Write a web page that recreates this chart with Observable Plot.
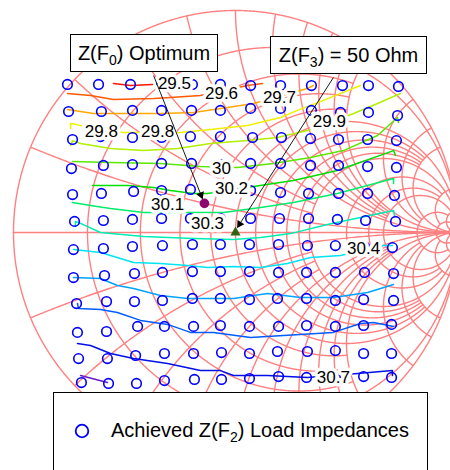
<!DOCTYPE html>
<html><head><meta charset="utf-8">
<script src="https://cdn.jsdelivr.net/npm/d3@7"></script>
<script src="https://cdn.jsdelivr.net/npm/@observablehq/plot@0.6"></script>
<style>
body{margin:0;background:#fff;font-family:"Liberation Sans",Arial,sans-serif;}
#wrap{position:relative;width:450px;height:470px;overflow:hidden;background:#fff;}
#wrap svg.plot{position:absolute;left:0;top:0;}
.box{position:absolute;border:1.5px solid #000;background:#fff;font-size:20px;box-sizing:border-box;display:flex;align-items:center;justify-content:center;white-space:nowrap;color:#000;}
.box sub, #legend sub{font-size:14px;vertical-align:-5px;line-height:0;}
#legend{position:absolute;left:53px;top:392px;width:375px;height:200px;border:1.5px solid #000;background:#fff;box-sizing:border-box;}
#legend svg{position:absolute;left:18px;top:28px;}
#legend .lt{position:absolute;left:57px;top:26px;font-size:20px;line-height:22px;white-space:nowrap;color:#000;}
</style></head><body><div id="wrap"></div><script>
// ---- Smith chart grid specification (normalized values, where each line ends) ----
const gridValues = [0.2, 0.4, 0.6, 0.8, 1, 1.2, 1.4, 1.6, 1.8, 2, 3, 4, 5, 10, 20, 50];
const gridEnds   = [Infinity, 2, 2, 2, Infinity, 5, 5, 5, 5, Infinity, 10, 10, Infinity, 20, 50, Infinity];

// ---- Achieved Z(F2) load impedances (reflection coefficient, rows top to bottom) ----
const impRe = [
 [-0.757,-0.617,-0.473,-0.333,-0.194,-0.068,0.068,0.203,0.342,0.482,0.599,0.734],
 [-0.752,-0.604,-0.464,-0.333,-0.198,-0.068,0.068,0.203,0.342,0.473,0.599,0.730],
 [-0.734,-0.608,-0.464,-0.333,-0.203,-0.068,0.077,0.207,0.338,0.464,0.595,0.725],
 [-0.739,-0.595,-0.464,-0.333,-0.198,-0.068,0.068,0.203,0.338,0.464,0.595,0.725],
 [-0.734,-0.604,-0.459,-0.333,-0.203,-0.068,0.068,0.203,0.329,0.464,0.595,0.716],
 [-0.725,-0.595,-0.464,-0.333,-0.203,-0.068,0.068,0.198,0.329,0.459,0.586,0.721],
 [-0.730,-0.595,-0.464,-0.329,-0.194,-0.068,0.063,0.194,0.324,0.450,0.581,0.707],
 [-0.730,-0.590,-0.455,-0.329,-0.194,-0.068,0.063,0.194,0.320,0.450,0.581,0.712],
 [-0.716,-0.581,-0.455,-0.329,-0.194,-0.068,0.063,0.189,0.320,0.450,0.577,0.712],
 [-0.712,-0.581,-0.441,-0.320,-0.189,-0.068,0.063,0.194,0.320,0.450,0.577,0.703],
 [-0.707,-0.577,-0.450,-0.320,-0.189,-0.063,0.063,0.189,0.324,0.450,0.577,0.703],
 [-0.694,-0.572,-0.446,-0.320,-0.185,-0.063,0.063,0.194,0.320,0.450,0.577,0.703]
];
const impIm = [
 [0.667,0.667,0.667,0.667,0.667,0.667,0.662,0.662,0.662,0.662,0.662,0.658],
 [0.545,0.545,0.550,0.550,0.550,0.550,0.559,0.559,0.550,0.541,0.541,0.527],
 [0.419,0.432,0.428,0.428,0.432,0.432,0.428,0.428,0.423,0.419,0.419,0.414],
 [0.288,0.302,0.306,0.311,0.311,0.306,0.311,0.311,0.302,0.302,0.297,0.293],
 [0.171,0.176,0.185,0.189,0.194,0.189,0.189,0.180,0.176,0.176,0.176,0.167],
 [0.050,0.054,0.059,0.063,0.063,0.063,0.063,0.063,0.063,0.059,0.054,0.050],
 [-0.077,-0.072,-0.063,-0.059,-0.054,-0.054,-0.054,-0.054,-0.059,-0.059,-0.063,-0.068],
 [-0.203,-0.194,-0.185,-0.180,-0.176,-0.176,-0.176,-0.180,-0.180,-0.180,-0.180,-0.185],
 [-0.320,-0.311,-0.311,-0.306,-0.297,-0.297,-0.302,-0.297,-0.297,-0.306,-0.302,-0.306],
 [-0.450,-0.446,-0.423,-0.423,-0.423,-0.419,-0.423,-0.423,-0.419,-0.423,-0.419,-0.414],
 [-0.568,-0.568,-0.554,-0.545,-0.545,-0.541,-0.545,-0.536,-0.536,-0.532,-0.545,-0.545],
 [-0.676,-0.680,-0.680,-0.667,-0.662,-0.662,-0.658,-0.649,-0.653,-0.653,-0.649,-0.653]
];

// ---- Output power contours (dBm) ----
const contourLevels = ["29.5","29.6","29.7","29.8","29.9","30","30.2","30.1","30.3","30.4","30.5","30.6","30.7","30.8"];
const contourColors = ["#ff1400","#ff5a00","#ffa800","#eef000","#b0f000","#5ae800","#00e000","#00ee6a","#00eeb4","#00e4f4","#00a4ff","#005cff","#0010e6","#6a18c8"];
const contourRe = [
 [-0.550,-0.473,-0.374],
 [-0.757,-0.653,-0.550,-0.369,-0.293,-0.158,0.054,0.122],
 [-0.757,-0.640,-0.486,-0.338,-0.189,-0.036,0.081,0.324,0.351],
 [-0.743,-0.743,-0.716,-0.608,-0.505,-0.441,-0.351,-0.248,-0.113,0.054,0.203,0.279,0.396,0.563],
 [-0.743,-0.734,-0.698,-0.563,-0.414,-0.261,-0.113,0.054,0.189,0.324,0.532,0.640,0.743],
 [-0.734,-0.563,-0.338,-0.158,0.009,0.171,0.338,0.486,0.640,0.730,0.734],
 [-0.644,-0.486,-0.369,-0.293,-0.189,-0.126,0.081,0.261,0.459,0.712,0.721],
 [-0.734,-0.653,-0.563,-0.414,-0.216,-0.054,0.113,0.261,0.459,0.712,0.712],
 [-0.721,-0.721,-0.698,-0.608,-0.414,-0.189,-0.009,0.113,0.248,0.414,0.712,0.716],
 [-0.730,-0.608,-0.459,-0.338,-0.216,-0.126,-0.009,0.113,0.234,0.338,0.473,0.667,0.707],
 [-0.730,-0.608,-0.532,-0.459,-0.338,-0.216,-0.009,0.144,0.293,0.441,0.595,0.712],
 [-0.712,-0.707,-0.608,-0.532,-0.428,-0.306,-0.203,-0.099,0.068,0.216,0.441,0.563,0.622,0.712],
 [-0.712,-0.653,-0.563,-0.459,-0.306,-0.158,-0.068,-0.009,0.144,0.324,0.550,0.707,0.707],
 [-0.698,-0.577]
];
const contourIm = [
 [0.671,0.662,0.667],
 [0.626,0.617,0.599,0.604,0.608,0.617,0.662,0.671],
 [0.554,0.536,0.536,0.536,0.541,0.563,0.581,0.649,0.662],
 [0.468,0.491,0.486,0.459,0.450,0.450,0.446,0.450,0.464,0.482,0.518,0.550,0.595,0.662],
 [0.392,0.414,0.401,0.378,0.369,0.378,0.401,0.414,0.428,0.459,0.536,0.581,0.626],
 [0.320,0.315,0.311,0.297,0.293,0.311,0.338,0.369,0.437,0.518,0.495],
 [0.212,0.212,0.203,0.189,0.176,0.176,0.207,0.234,0.279,0.369,0.347],
 [0.135,0.122,0.108,0.090,0.090,0.090,0.113,0.135,0.176,0.243,0.221],
 [0.027,0.050,0.041,0.000,-0.018,-0.027,-0.032,-0.023,-0.005,0.036,0.099,0.077],
 [-0.077,-0.090,-0.135,-0.140,-0.149,-0.158,-0.153,-0.158,-0.140,-0.113,-0.104,-0.059,-0.059],
 [-0.203,-0.207,-0.239,-0.252,-0.284,-0.297,-0.297,-0.275,-0.293,-0.293,-0.270,-0.234],
 [-0.320,-0.342,-0.347,-0.360,-0.396,-0.414,-0.450,-0.450,-0.473,-0.464,-0.450,-0.410,-0.405,-0.423],
 [-0.500,-0.509,-0.545,-0.568,-0.590,-0.622,-0.622,-0.644,-0.644,-0.653,-0.635,-0.622,-0.644],
 [-0.644,-0.676]
];

// ---- Contour labels ----
const labelText = ["29.5","29.6","29.7","29.8","29.8","29.9","30","30.2","30.1","30.3","30.4","30.7"];
const labelRe = [-0.275,-0.063,0.198,-0.604,-0.351,0.423,-0.063,-0.018,-0.306,-0.126,0.577,0.441];
const labelIm = [0.671,0.626,0.608,0.455,0.455,0.500,0.288,0.198,0.126,0.041,-0.072,-0.653];

// ---- Marked impedances ----
const optimumF0 = {re: -0.140, im: 0.131};
const f3Point = {re: 0.0, im: 0.0};
const arrowFromRe = [-0.369, 0.441];
const arrowFromIm = [0.707, 0.698];
const arrowToRe = [-0.149, 0.009];
const arrowToIm = [0.153, 0.023];

// ---------- build tables ----------
const impedances = impRe.flatMap((row, i) => row.map((re, j) => ({re, im: impIm[i][j]})));
const contours = contourLevels.map((lv, k) => ({level: lv, color: contourColors[k],
  pts: contourRe[k].map((re, i) => ({re, im: contourIm[k][i], level: lv}))}));
const labels = labelText.map((t, i) => ({text: t, re: labelRe[i], im: labelIm[i]}));
const arrows = arrowFromRe.map((r, i) => ({x1: r, y1: arrowFromIm[i], x2: arrowToRe[i], y2: arrowToIm[i]}));

function smithGrid() {
  const out = []; let id = 0; const N = 3000;
  const zOf = (gr, gi) => { const d = (1 - gr) ** 2 + gi * gi; return [(1 - gr * gr - gi * gi) / d, 2 * gi / d]; };
  function push(pts) {
    let cur = [];
    const flush = () => { if (cur.length > 1) { id++; for (const q of cur) out.push({id, re: q[0], im: q[1]}); } cur = []; };
    for (const p of pts) { if (p) cur.push(p); else flush(); }
    flush();
  }
  push(d3.range(N + 1).map(i => [Math.cos(2 * Math.PI * i / N), Math.sin(2 * Math.PI * i / N)]));
  push([[-1, 0], [1, 0]]);
  gridValues.forEach((v, k) => {
    const e = gridEnds[k];
    const c = v / (1 + v), R = 1 / (1 + v);
    push(d3.range(N + 1).map(i => {
      const t = 2 * Math.PI * i / N, gr = c + R * Math.cos(t), gi = R * Math.sin(t);
      const z = zOf(gr, gi); return Math.abs(z[1]) <= e ? [gr, gi] : null;
    }));
    for (const s of [1, -1]) {
      const cy = s / v, Rx = 1 / v;
      push(d3.range(N + 1).map(i => {
        const t = 2 * Math.PI * i / N, gr = 1 + Rx * Math.cos(t), gi = cy + Rx * Math.sin(t);
        if (gr * gr + gi * gi > 1 + 1e-9) return null;
        const z = zOf(gr, gi); return z[0] <= e ? [gr, gi] : null;
      }));
    }
  });
  return out;
}
const grid = smithGrid();

// arrow heads
const headBack = 4 / 222;
const heads = arrows.map(a => {
  const dx = a.x2 - a.x1, dy = a.y2 - a.y1, L = Math.hypot(dx, dy);
  return {re: a.x2 - dx / L * headBack, im: a.y2 - dy / L * headBack, rot: Math.atan2(dx, dy) * 180 / Math.PI};
});

const plot = Plot.plot({
  width: 450, height: 392, margin: 0,
  x: {domain: [-235 / 222, 215 / 222], axis: null},
  y: {domain: [-160 / 222, 232 / 222], axis: null},
  style: {fontFamily: "'Liberation Sans', Arial, sans-serif", background: "white", overflow: "hidden"},
  marks: [
    Plot.line(grid, {x: "re", y: "im", z: "id", stroke: "#ff8080", strokeWidth: 1.4, clip: true}),
    ...contours.map(c => Plot.line(c.pts, {x: "re", y: "im", stroke: c.color, strokeWidth: 1.5, clip: true})),
    Plot.dot(impedances, {x: "re", y: "im", r: 4.8, stroke: "#0000ff", strokeWidth: 1.6, fill: "none"}),
    Plot.text(labels, {x: "re", y: "im", text: "text", fontSize: 17, fill: "black", stroke: "white", strokeWidth: 7, strokeLinejoin: "round", paintOrder: "stroke"}),
    Plot.dot([optimumF0], {x: "re", y: "im", r: 4.8, fill: "#8c0a6e", stroke: "none"}),
    Plot.dot([f3Point], {x: "re", y: "im", symbol: "triangle", r: 3.8, fill: "#2f6410", stroke: "none"}),
    Plot.link(arrows, {x1: "x1", y1: "y1", x2: "x2", y2: "y2", stroke: "black", strokeWidth: 0.9}),
    Plot.dot(heads, {x: "re", y: "im", symbol: "triangle", r: 3, fill: "black", stroke: "none", rotate: "rot"})
  ]
});
plot.classList.add("plot");
const wrap = document.getElementById("wrap");
wrap.appendChild(plot);

// annotation boxes
const boxes = [
  {html: "Z(F<sub>0</sub>) Optimum", left: 70, top: 34, w: 148, h: 38},
  {html: "Z(F<sub>3</sub>) = 50 Ohm", left: 270, top: 36, w: 157, h: 38}
];
for (const b of boxes) {
  const d = document.createElement("div");
  d.className = "box";
  d.style.left = b.left + "px"; d.style.top = b.top + "px"; d.style.width = b.w + "px"; d.style.height = b.h + "px";
  d.innerHTML = "<span>" + b.html + "</span>";
  wrap.appendChild(d);
}
// legend
const lg = document.createElement("div");
lg.id = "legend";
lg.innerHTML = '<svg width="20" height="20"><circle cx="10" cy="10" r="6.3" fill="none" stroke="#0000ff" stroke-width="1.8"/></svg>' +
  '<div class="lt">Achieved Z(F<sub>2</sub>) Load Impedances</div>';
wrap.appendChild(lg);
</script></body></html>
